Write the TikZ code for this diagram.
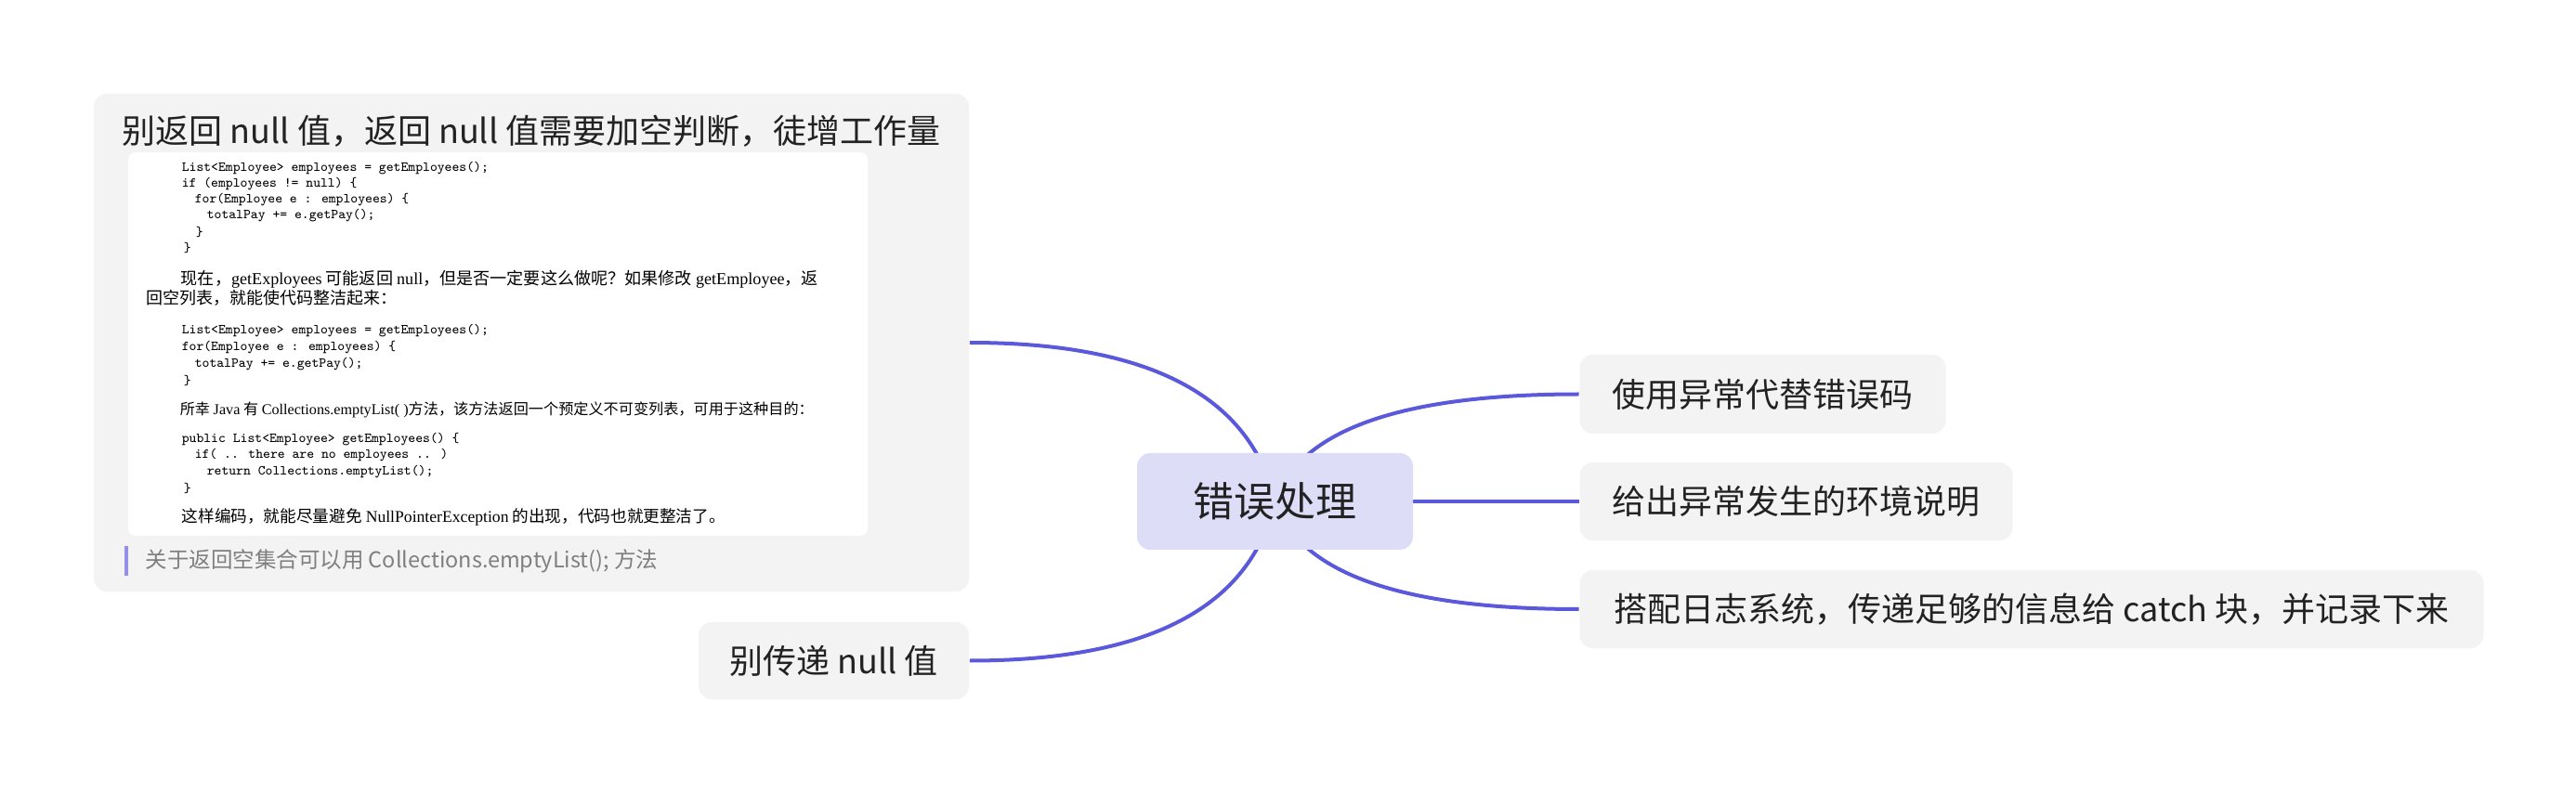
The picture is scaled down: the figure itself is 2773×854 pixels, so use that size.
\documentclass[tikz,border=0pt]{standalone}
\usepackage{fontspec}
\usepackage{graphicx}
\setmainfont{Noto Sans CJK SC}
\newfontfamily\tms{Liberation Serif}
\usetikzlibrary{calc,backgrounds}
\newlength\pxu
\setlength\pxu{0.25pt}
\definecolor{boxgray}{HTML}{F3F3F3}
\definecolor{centerfill}{HTML}{DEDDF8}
\definecolor{linec}{HTML}{5B59DB}
\definecolor{txt}{HTML}{222222}
\definecolor{quotebar}{HTML}{9590E6}
\definecolor{quotetxt}{HTML}{7F7F7F}
\tikzset{
  topic/.style={fill=boxgray, rounded corners=14\pxu, inner sep=0pt, text=txt,
    font=\fontsize{9}{11}\selectfont},
  mainnode/.style={fill=centerfill, rounded corners=14\pxu, inner sep=0pt, text=txt,
    minimum width=297\pxu, minimum height=104\pxu, font=\fontsize{11}{13}\selectfont},
  conn/.style={draw=linec, line width=4\pxu},
  codeln/.style={anchor=west, inner sep=0pt, text=black, font=\ttfamily\fontsize{3.7}{4}\selectfont},
  para/.style={anchor=west, inner sep=0pt, text=black, font=\fontsize{4.5}{5}\selectfont},
}
\begin{document}
\begin{tikzpicture}[x=0.25pt,y=-0.25pt]
\useasboundingbox (0,0) rectangle (2773,854);
% big box
\node[topic, minimum width=942\pxu, minimum height=536\pxu] (BIG) at (572,369) {};
\node[inner sep=0pt, text=txt, font=\fontsize{9}{11}\selectfont] (T) at (572,141)
  {别返回 null 值，返回 null 值需要加空判断，徒增工作量};
\node[fill=white, rounded corners=8\pxu, inner sep=0pt, minimum width=796\pxu, minimum height=413\pxu] (IMG) at (536,370.5) {};
% code image content
\node[codeln] (k1) at (195,181) {List<Employee> employees = getEmployees();};
\node[codeln] (k2) at (195,198) {if (employees != null) \{};
\node[codeln] (k3) at (209,215) {for(Employee e : employees) \{};
\node[codeln] (k4) at (222,232) {totalPay += e.getPay();};
\node[codeln] (k5) at (210,250) {\}};
\node[codeln] (k6) at (197,267) {\}};
\node[para] (tA) at (194,301) {\resizebox{686\pxu}{!}{现在，{\tms getExployees} 可能返回 {\tms null}，但是否一定要这么做呢？如果修改 {\tms getEmployee}，返}};
\node[para] (tB) at (157,321) {回空列表，就能使代码整洁起来：};
\node[codeln] (k7) at (195,356) {List<Employee> employees = getEmployees();};
\node[codeln] (k8) at (195,374) {for(Employee e : employees) \{};
\node[codeln] (k9) at (209,392) {totalPay += e.getPay();};
\node[codeln] (k10) at (197,410) {\}};
\node[para] (tC) at (193,441) {\resizebox{682\pxu}{!}{所幸 {\tms Java} 有 {\tms Collections.emptyList( )}方法，该方法返回一个预定义不可变列表，可用于这种目的：}};
\node[codeln] (k11) at (195,473) {public List<Employee> getEmployees() \{};
\node[codeln] (k12) at (209,490) {if( .. there are no employees .. )};
\node[codeln] (k13) at (222,508) {return Collections.emptyList();};
\node[codeln] (k14) at (197,526) {\}};
\node[para] (tD) at (195,557) {\resizebox{585\pxu}{!}{这样编码，就能尽量避免 {\tms NullPointerException} 的出现，代码也就更整洁了。}};
% quote
\node[fill=quotebar, inner sep=0pt, minimum width=4\pxu, minimum height=32\pxu] (QB) at (136,604) {};
\node[anchor=west, inner sep=0pt, text=quotetxt, font=\fontsize{5.87}{7}\selectfont] (QT) at (156,604)
  {关于返回空集合可以用 Collections.emptyList(); 方法};
% other nodes
\node[topic, minimum width=291\pxu, minimum height=83\pxu] (BL) at (897.5,711.5) {别传递 null 值};
\node[mainnode] (C) at (1372.5,540) {错误处理};
\node[topic, minimum width=394\pxu, minimum height=85\pxu] (R1) at (1897.5,424.5) {使用异常代替错误码};
\node[topic, minimum width=466\pxu, minimum height=84\pxu] (R2) at (1933.5,540) {给出异常发生的环境说明};
\node[topic, minimum width=973\pxu, minimum height=84\pxu] (R3) at (2187,656) {搭配日志系统，传递足够的信息给 catch 块，并记录下来};
% connectors
\coordinate (qa) at ($(C.center |- BIG.east) + (-40,0)$);
\coordinate (qb) at ($(C.center |- BL.east) + (-40,0)$);
\coordinate (qc) at ($(C.center |- R1.west) + (40,0)$);
\coordinate (qd) at ($(C.center |- R3.west) + (40,0)$);
\begin{pgfonlayer}{background}
\fill[white] (0,0) rectangle (2773,854);
\draw[conn] (C.center) .. controls ($(C.center)!0.667!(qa)$) and ($(BIG.east)!0.667!(qa)$) .. (BIG.east);
\draw[conn] (C.center) .. controls ($(C.center)!0.667!(qb)$) and ($(BL.east)!0.667!(qb)$) .. (BL.east);
\draw[conn] (C.center) .. controls ($(C.center)!0.667!(qc)$) and ($(R1.west)!0.667!(qc)$) .. (R1.west);
\draw[conn] (C.center) -- (R2.west);
\draw[conn] (C.center) .. controls ($(C.center)!0.667!(qd)$) and ($(R3.west)!0.667!(qd)$) .. (R3.west);
\end{pgfonlayer}
\end{tikzpicture}
\end{document}
